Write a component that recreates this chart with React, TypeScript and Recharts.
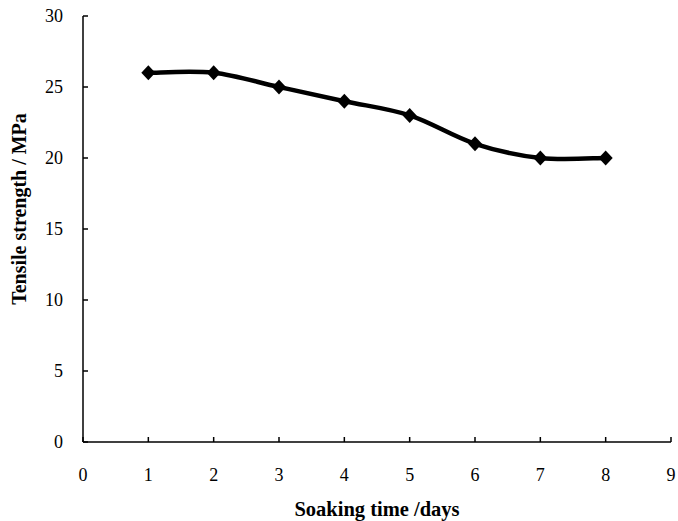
import React from "react";
import { LineChart, Line, XAxis, YAxis } from "recharts";

const days = [1, 2, 3, 4, 5, 6, 7, 8];
const strength = [26, 26, 25, 24, 23, 21, 20, 20];
const xTicks = [0, 1, 2, 3, 4, 5, 6, 7, 8, 9];
const yTicks = [0, 5, 10, 15, 20, 25, 30];

const data = days.map((d, i) => ({ day: d, value: strength[i] }));

const FONT = "'Liberation Serif', 'Times New Roman', serif";

// Excel-style smoothed line (Catmull-Rom, 1/6 control distance)
function excelSmooth(context: any) {
  let pts: [number, number][] = [];
  return {
    areaStart() {},
    areaEnd() {},
    lineStart() {
      pts = [];
    },
    lineEnd() {
      if (!pts.length) return;
      context.moveTo(pts[0][0], pts[0][1]);
      for (let i = 0; i < pts.length - 1; i++) {
        const p0 = pts[i - 1] || pts[i];
        const p1 = pts[i];
        const p2 = pts[i + 1];
        const p3 = pts[i + 2] || p2;
        context.bezierCurveTo(
          p1[0] + (p2[0] - p0[0]) / 6,
          p1[1] + (p2[1] - p0[1]) / 6,
          p2[0] - (p3[0] - p1[0]) / 6,
          p2[1] - (p3[1] - p1[1]) / 6,
          p2[0],
          p2[1]
        );
      }
    },
    point(x: number, y: number) {
      pts.push([+x, +y]);
    },
  };
}

const Diamond = (props: any) => {
  const { cx, cy } = props;
  if (cx == null || cy == null) return null;
  const rx = 7;
  const ry = 7.5;
  return (
    <path
      d={`M${cx},${cy - ry}L${cx + rx},${cy}L${cx},${cy + ry}L${cx - rx},${cy}Z`}
      fill="#000"
    />
  );
};

const YTick = (props: any) => {
  const { x, y, payload } = props;
  return (
    <g>
      <line x1={x} x2={x + 5} y1={y} y2={y} stroke="#000" strokeWidth={1.5} />
      <text x={x - 20} y={y + 6} textAnchor="end" fontFamily={FONT} fontSize={18} fill="#000">
        {payload.value}
      </text>
    </g>
  );
};

const XTick = (props: any) => {
  const { x, y, payload } = props;
  return (
    <g>
      <line x1={x} x2={x} y1={y} y2={y - 5} stroke="#000" strokeWidth={1.5} />
      <text x={x} y={y + 39} textAnchor="middle" fontFamily={FONT} fontSize={18} fill="#000">
        {payload.value}
      </text>
    </g>
  );
};

export default function App() {
  return (
    <div style={{ width: 678, height: 521, background: "#fff" }}>
      <style>{`body{margin:0}`}</style>
      <LineChart
        width={678}
        height={521}
        data={data}
        margin={{ top: 16, right: 7, bottom: 0, left: 0 }}
      >
        <XAxis
          dataKey="day"
          type="number"
          domain={[0, 9]}
          ticks={xTicks}
          interval={0}
          height={79}
          tickSize={0}
          tickMargin={0}
          tickLine={false}
          axisLine={{ stroke: "#000", strokeWidth: 1.5 }}
          tick={<XTick />}
          label={{
            value: "Soaking time /days",
            position: "insideBottom",
            offset: 5,
            dx: 0,
            style: { fontFamily: FONT, fontSize: 20.5, fontWeight: "bold", fill: "#000" },
          }}
        />
        <YAxis
          type="number"
          domain={[0, 30]}
          ticks={yTicks}
          interval={0}
          width={83}
          tickSize={0}
          tickMargin={0}
          tickLine={false}
          axisLine={{ stroke: "#000", strokeWidth: 1.5 }}
          tick={<YTick />}
          label={{
            value: "Tensile strength / MPa",
            angle: -90,
            position: "insideLeft",
            offset: 19,
            dy: -20,
            style: {
              fontFamily: FONT,
              fontSize: 20,
              fontWeight: "bold",
              fill: "#000",
              textAnchor: "middle",
            },
          }}
        />
        <Line
          dataKey="value"
          type={excelSmooth as any}
          stroke="#000"
          strokeWidth={4.5}
          dot={<Diamond />}
          activeDot={false}
          isAnimationActive={false}
        />
      </LineChart>
    </div>
  );
}
